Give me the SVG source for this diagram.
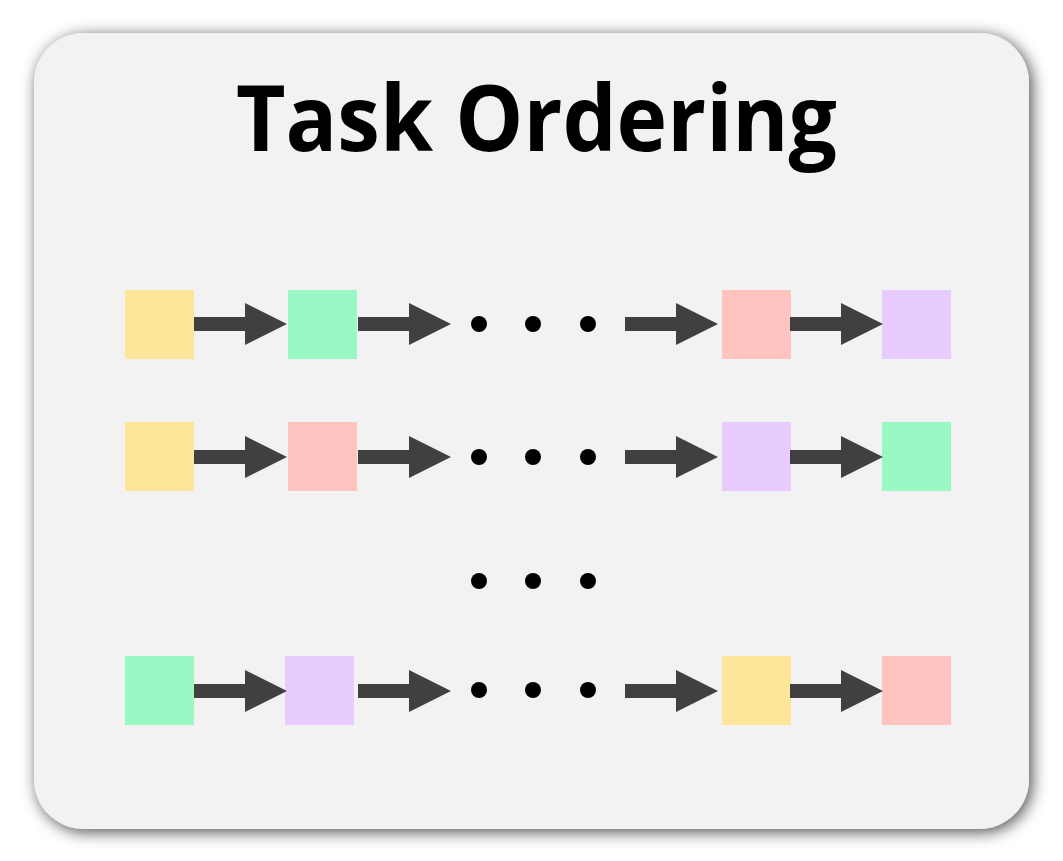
<svg xmlns="http://www.w3.org/2000/svg" width="1063" height="861" viewBox="0 0 1063 861">
  <defs>
    <filter id="shadow" x="-10%" y="-10%" width="120%" height="120%">
      <feDropShadow dx="3" dy="3" stdDeviation="8" flood-color="#000" flood-opacity="0.7"/>
    </filter>
    <!-- block arrow pointing right, tip at origin, centred on y=0 -->
    <polygon id="arrow" points="-93,-7 -42,-7 -42,-21 0,0 -42,21 -42,7 -93,7"/>
  </defs>
  <style>
    .panel { fill: #F2F2F2; }
    .title { font-family: "Open Sans", "Liberation Sans", sans-serif; font-weight: 700; font-size: 91px; fill: #000; }
    .yellow { fill: #FFE599; }
    .green { fill: #99F8C3; }
    .pink { fill: #FFC4C0; }
    .purple { fill: #E8CBFF; }
    .conn use { fill: #404040; }
    .dot { fill: #000; }
  </style>

  <rect width="1063" height="861" fill="#FFFFFF"/>

  <g id="panel">
    <rect class="panel" x="34" y="33" width="995" height="796" rx="50" ry="50" filter="url(#shadow)"/>
    <text class="title" x="236" y="151" textLength="601" lengthAdjust="spacingAndGlyphs">Task Ordering</text>
  </g>

  <!-- row 1 -->
  <g id="r1-a"><rect class="yellow" x="125" y="290" width="69" height="69"/></g>
  <g id="r1-b"><rect class="green" x="288" y="290" width="69" height="69"/></g>
  <g id="r1-y"><rect class="pink" x="722" y="290" width="69" height="69"/></g>
  <g id="r1-z"><rect class="purple" x="882" y="290" width="69" height="69"/></g>

  <!-- row 2 -->
  <g id="r2-a"><rect class="yellow" x="125" y="422" width="69" height="69"/></g>
  <g id="r2-b"><rect class="pink" x="288" y="422" width="69" height="69"/></g>
  <g id="r2-y"><rect class="purple" x="722" y="422" width="69" height="69"/></g>
  <g id="r2-z"><rect class="green" x="882" y="422" width="69" height="69"/></g>

  <!-- row n -->
  <g id="rn-a"><rect class="green" x="125" y="656" width="69" height="69"/></g>
  <g id="rn-b"><rect class="purple" x="285" y="656" width="69" height="69"/></g>
  <g id="rn-y"><rect class="yellow" x="722" y="656" width="69" height="69"/></g>
  <g id="rn-z"><rect class="pink" x="882" y="656" width="69" height="69"/></g>

  <g id="connectors" class="conn">
    <use href="#arrow" transform="translate(287,324)"/>
    <use href="#arrow" transform="translate(451,324)"/>
    <use href="#arrow" transform="translate(718,324)"/>
    <use href="#arrow" transform="translate(883,324)"/>

    <use href="#arrow" transform="translate(287,457)"/>
    <use href="#arrow" transform="translate(451,457)"/>
    <use href="#arrow" transform="translate(718,457)"/>
    <use href="#arrow" transform="translate(883,457)"/>

    <use href="#arrow" transform="translate(287,691)"/>
    <use href="#arrow" transform="translate(451,691)"/>
    <use href="#arrow" transform="translate(718,691)"/>
    <use href="#arrow" transform="translate(883,691)"/>
  </g>

  <g id="ellipses">
    <circle class="dot" cx="479" cy="324" r="8"/>
    <circle class="dot" cx="533" cy="324" r="8"/>
    <circle class="dot" cx="588" cy="324" r="8"/>

    <circle class="dot" cx="479" cy="457" r="8"/>
    <circle class="dot" cx="533" cy="457" r="8"/>
    <circle class="dot" cx="588" cy="457" r="8"/>

    <circle class="dot" cx="479" cy="581" r="8"/>
    <circle class="dot" cx="533" cy="581" r="8"/>
    <circle class="dot" cx="588" cy="581" r="8"/>

    <circle class="dot" cx="479" cy="690" r="8"/>
    <circle class="dot" cx="533" cy="690" r="8"/>
    <circle class="dot" cx="588" cy="690" r="8"/>
  </g>
</svg>
